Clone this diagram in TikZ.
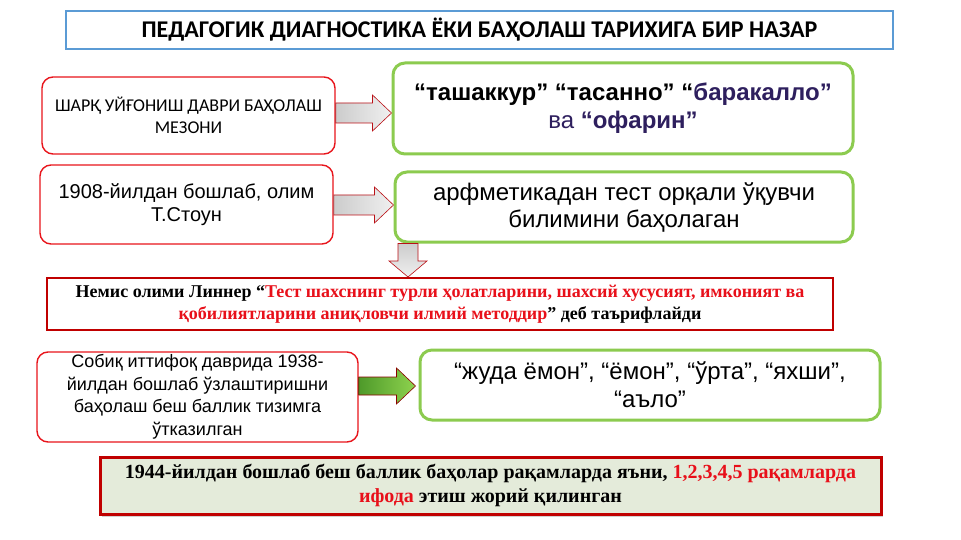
\documentclass[tikz,border=0pt]{standalone}
\usepackage{fontspec}
\setmainfont{Liberation Sans}
\newfontfamily\carlito{Carlito}
\newfontfamily\timesf{Liberation Serif}
\usetikzlibrary{calc,shadows}
\definecolor{tblue}{HTML}{5B9BD5}
\definecolor{bred}{HTML}{E8141B}
\definecolor{dred}{HTML}{C00000}
\definecolor{lgreen}{HTML}{8CCB4F}
\definecolor{purp}{HTML}{2E1F5E}
\definecolor{hfill}{HTML}{E4EBDA}
\definecolor{txtred}{HTML}{E8101A}
\definecolor{agreenA}{HTML}{4E9A2A}
\definecolor{agreenB}{HTML}{8ED24E}
\tikzset{
  titlebox/.style={draw=tblue, line width=1.2pt, fill=white, minimum width=827pt, minimum height=38pt, inner sep=0pt},
  redbox/.style={draw=bred, line width=1.4pt, fill=white, rounded corners=11pt, inner sep=0pt, align=center},
  greenbox/.style={draw=lgreen, line width=3pt, fill=white, rounded corners=12pt, inner sep=0pt, align=center},
  quotebox/.style={draw=dred, line width=2pt, fill=white, inner sep=0pt, align=center},
  greyarrow/.style={draw=bred!80!black, line width=0.6pt, left color=gray!40, right color=gray!12},
  greenarrow/.style={draw=red!55!black, line width=0.6pt, left color=agreenA, right color=agreenB},
  greyvarrow/.style={draw=bred!80!black, line width=0.6pt, top color=gray!40, bottom color=gray!12}
}
% horizontal block arrow: style, start, end, shaft half, head half, head length
\newcommand\myharrow[6]{\path[#1] ($(#2)+(0,-#4)$) -- ($(#3)+(-#6,-#4)$) -- ($(#3)+(-#6,-#5)$) -- (#3) -- ($(#3)+(-#6,#5)$) -- ($(#3)+(-#6,#4)$) -- ($(#2)+(0,#4)$) -- cycle;}
% vertical block arrow (downwards)
\newcommand\myvarrow[6]{\path[#1] ($(#2)+(-#4,0)$) -- ($(#3)+(-#4,-#6)$) -- ($(#3)+(-#5,-#6)$) -- (#3) -- ($(#3)+(#5,-#6)$) -- ($(#3)+(#4,-#6)$) -- ($(#2)+(#4,0)$) -- cycle;}
\begin{document}
\begin{tikzpicture}[x=1pt,y=-1pt]
\useasboundingbox[fill=white] (0,0) rectangle (961,540);

\node[titlebox, font=\carlito\bfseries\fontsize{24}{26}\selectfont] (title) at (479.5,30) {ПЕДАГОГИК ДИАГНОСТИКА ЁКИ БАҲОЛАШ ТАРИХИГА БИР НАЗАР};

\node[redbox, minimum width=293pt, minimum height=77pt, font=\carlito\fontsize{18}{21.5}\selectfont] (nA) at (188.5,115.5)
  {ШАРҚ УЙҒОНИШ ДАВРИ БАҲОЛАШ\\ МЕЗОНИ};
\node[greenbox, minimum width=460pt, minimum height=91pt, font=\bfseries\fontsize{24}{28}\selectfont] (nB) at (623,108.5)
  {“ташаккур” “тасанно” “\textcolor{purp}{баракалло”}\\
   \textcolor{purp}{\mdseries ва \bfseries “офарин”}};

\node[redbox, minimum width=293pt, minimum height=79pt, font=\fontsize{20}{23}\selectfont] (nC) at (186.5,204.5)
  {1908-йилдан бошлаб, олим\\ Т.Стоун};
\node[greenbox, minimum width=458pt, minimum height=70pt, font=\fontsize{24}{27}\selectfont] (nD) at (624,207)
  {арфметикадан тест орқали ўқувчи\\ билимини баҳолаган};

\node[quotebox, minimum width=786pt, minimum height=52pt, font=\timesf\bfseries\fontsize{18}{21.5}\selectfont] (nE) at (440,304)
  {Немис олими Линнер “\textcolor{txtred}{Тест шахснинг турли ҳолатларини, шахсий хусусият, имконият ва}\\
   \textcolor{txtred}{қобилиятларини аниқловчи илмий методдир}” деб таърифлайди};

\node[redbox, minimum width=321pt, minimum height=90pt, font=\fontsize{18}{22.5}\selectfont] (nF) at (197.5,397)
  {Собиқ иттифоқ даврида 1938-\\ йилдан бошлаб ўзлаштиришни\\ баҳолаш беш баллик тизимга\\ ўтказилган};
\node[greenbox, minimum width=460pt, minimum height=70pt, font=\fontsize{24}{28}\selectfont] (nG) at (650,385)
  {“жуда ёмон”, “ёмон”, “ўрта”, “яхши”,\\ “аъло”};

\node[quotebox, draw=dred, line width=3pt, fill=hfill, minimum width=781pt, minimum height=57pt,
      drop shadow={shadow xshift=2pt, shadow yshift=-3pt, opacity=0.35},
      font=\timesf\bfseries\fontsize{20}{24}\selectfont] (nH) at (490.5,485.5)
  {1944-йилдан бошлаб беш баллик баҳолар рақамларда яъни, \textcolor{txtred}{1,2,3,4,5 рақамларда}\\
   \textcolor{txtred}{ифода} этиш жорий қилинган};

% connectors
\coordinate (a1) at (nA.east |- 0,113);
\coordinate (b1) at (nB.west |- 0,113);
\myharrow{greyarrow}{a1}{b1}{10}{18}{19}
\coordinate (c1) at (nC.east |- 0,205);
\coordinate (d1) at (nD.west |- 0,205);
\myharrow{greyarrow}{c1}{d1}{10}{18}{19}
\coordinate (d2) at (408,0 |- nD.south);
\coordinate (e1) at (408,0 |- nE.north);
\myvarrow{greyvarrow}{d2}{e1}{10}{19}{16}
\coordinate (f1) at (nF.east |- 0,386);
\coordinate (g1) at (nG.west |- 0,386);
\coordinate (g2) at ($(g1)+(-3,0)$);
\myharrow{greenarrow}{f1}{g2}{9}{18}{19}
\end{tikzpicture}
\end{document}
